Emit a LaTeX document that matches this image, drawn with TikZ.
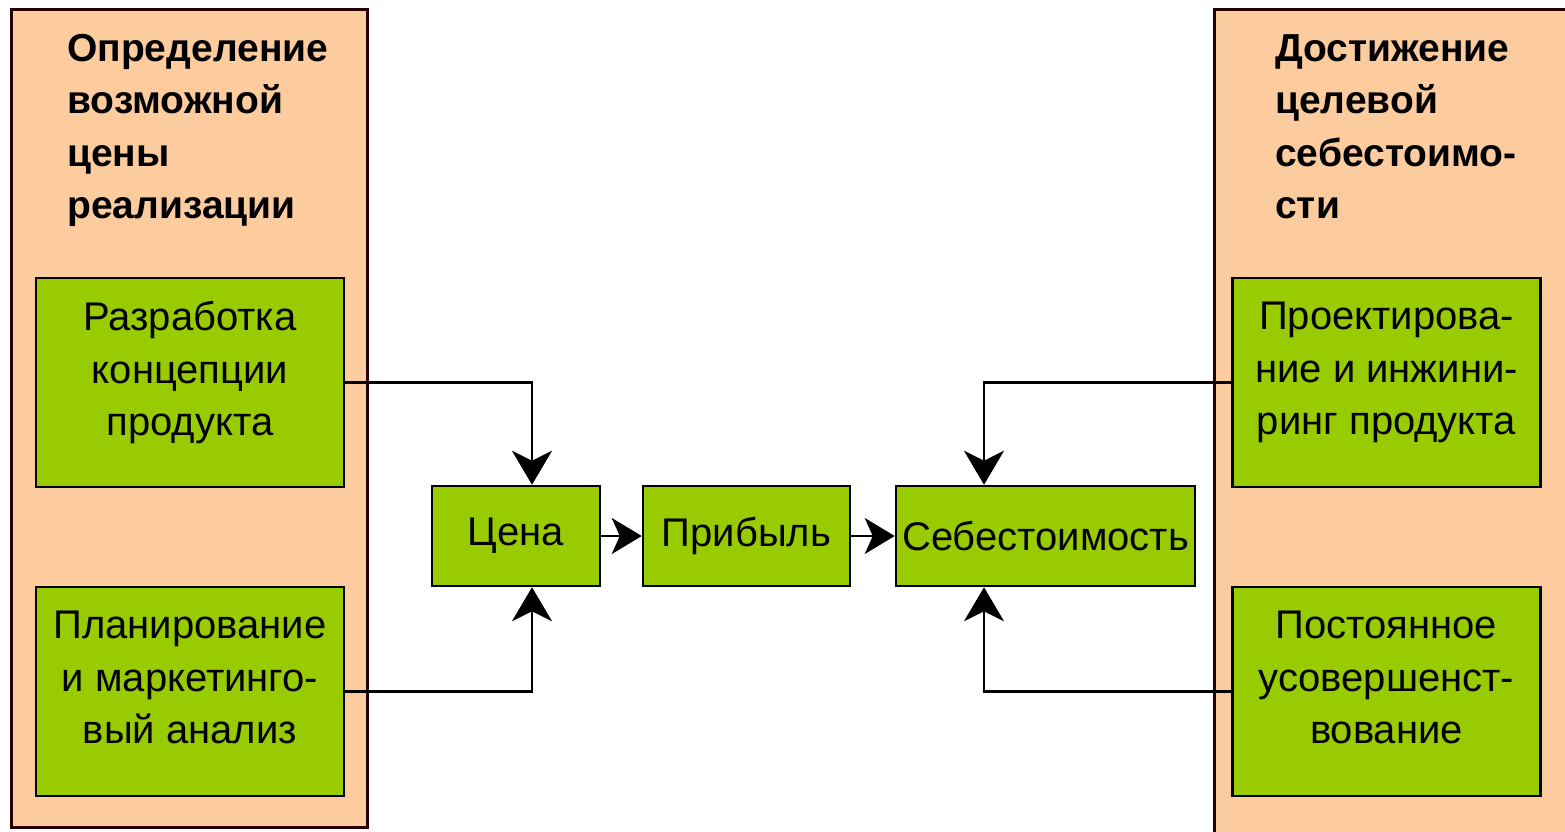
\documentclass[tikz,border=0pt]{standalone}
\usepackage{fontspec}
\setmainfont{Liberation Sans}
\usetikzlibrary{arrows.meta}
\definecolor{peach}{HTML}{FCCB9E}
\definecolor{leaf}{HTML}{99CC00}
\begin{document}
\begin{tikzpicture}[x=1pt,y=-1pt,
  panel/.style={draw=black!85!red, line width=2.5pt, fill=peach, anchor=north west, inner sep=0pt},
  head/.style={anchor=north west, align=left, inner sep=0pt, font=\fontsize{39}{52.5}\selectfont\bfseries},
  gbox/.style={draw=black, line width=2.5pt, fill=leaf, align=center, inner sep=0pt,
    font=\fontsize{40}{52.5}\selectfont},
  bigbox/.style={gbox, text depth=28pt, minimum width=308pt, minimum height=209pt},
  conn/.style={line width=2.2pt, draw=black, -{Stealth[length=34pt,width=40pt,inset=10pt]}},
  hconn/.style={line width=2.2pt, draw=black, -{Stealth[length=30pt,width=36pt,inset=8pt]}}]
\useasboundingbox (0,0) rectangle (1565,831);
\fill[white] (0,0) rectangle (1565,831);
\node[panel, minimum width=356pt, minimum height=818pt] (lp) at (10,8) {};
\node[panel, minimum width=362pt, minimum height=840pt] (rp) at (1213,8) {};
\node[head] (lh) at (67,34) {Определение\\возможной\\цены\\реализации};
\node[head] (rh) at (1275,34) {Достижение\\целевой\\себестоимо-\\сти};
\node[bigbox] (lt) at (190,382.5) {Разработка\\концепции\\продукта};
\node[bigbox] (lb) at (190,691.5) {Планирование\\и маркетинго-\\вый анализ};
\node[bigbox] (rt) at (1386.5,382.5) {Проектирова-\\ние и инжини-\\ринг продукта};
\node[bigbox] (rb) at (1386.5,691.5) {Постоянное\\усовершенст-\\вование};
\node[gbox, minimum width=168pt, minimum height=100pt] (cena) at (516,536) {Цена};
\node[gbox, minimum width=207pt, minimum height=100pt] (prib) at (746.5,536) {Прибыль};
\node[gbox, minimum width=299pt, minimum height=100pt] (seb) at (1045.5,536) {Себестоимость};
\draw[conn] (lt.east) -| ([xshift=16pt]cena.north);
\draw[conn] (lb.east) -| ([xshift=16pt]cena.south);
\draw[conn] (rt.west) -| ([xshift=-61.5pt]seb.north);
\draw[conn] (rb.west) -| ([xshift=-61.5pt]seb.south);
\draw[hconn] (cena.east) -- (prib.west);
\draw[hconn] (prib.east) -- (seb.west);
\end{tikzpicture}
\end{document}
